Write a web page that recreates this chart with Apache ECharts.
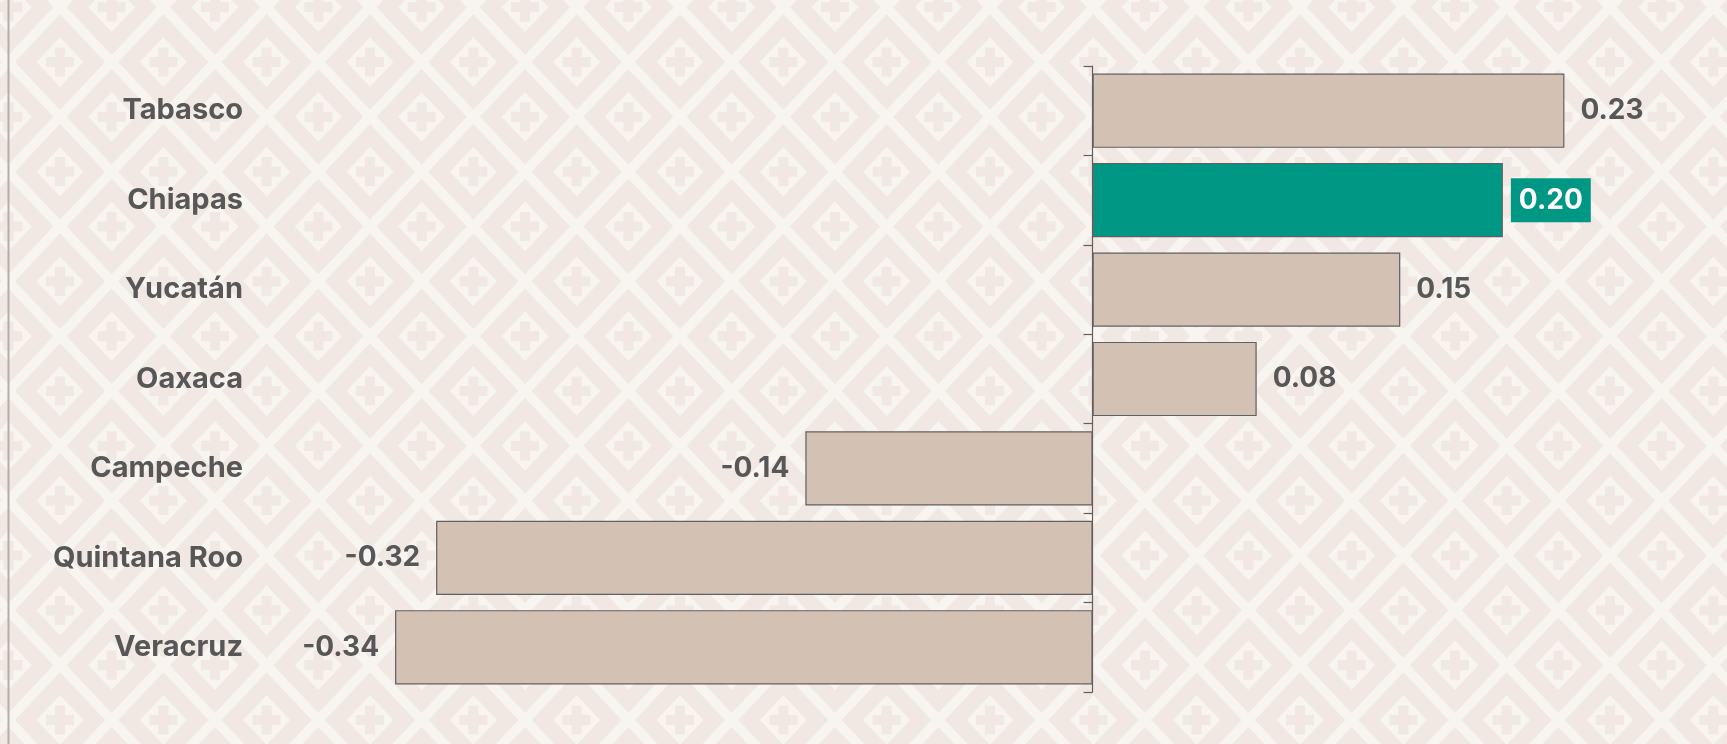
<!DOCTYPE html>
<html>
<head>
<meta charset="utf-8">
<script src="https://cdn.jsdelivr.net/npm/echarts@6.0.0/dist/echarts.min.js"></script>
<style>
  html, body { margin: 0; padding: 0; background: #f8f4f0; }
  #chart { width: 1727px; height: 744px; }
</style>
</head>
<body>
<div id="chart"></div>
<script>
const states = ['Tabasco', 'Chiapas', 'Yucatán', 'Oaxaca', 'Campeche', 'Quintana Roo', 'Veracruz']
const values = [0.23, 0.20, 0.15, 0.08, -0.14, -0.32, -0.34]
const highlight = 'Chiapas'

const FONT = 'Inter'
const TEXT = '#575757'
const TEAL = '#009885'

// tiled diamond / cross wallpaper, 3x3 lattice cells per tile
function makeTile () {
  const pw = 310 / 3
  const ph = 329 / 3
  const c = document.createElement('canvas')
  c.width = 310
  c.height = 329
  const g = c.getContext('2d')
  g.fillStyle = '#f8f4f0'
  g.fillRect(0, 0, c.width, c.height)
  const k = ph / pw
  function diamond (cx, cy, a, fill) {
    g.fillStyle = fill
    g.beginPath()
    g.moveTo(cx - a, cy)
    g.lineTo(cx, cy - a * k)
    g.lineTo(cx + a, cy)
    g.lineTo(cx, cy + a * k)
    g.closePath()
    g.fill()
  }
  function cell (cx, cy) {
    diamond(cx, cy, 45, '#f1e7e3')
    diamond(cx, cy, 23.5, '#f8f4f0')
    g.fillStyle = '#f1e7e3'
    g.fillRect(cx - 14, cy - 5, 28, 10)
    g.fillRect(cx - 5, cy - 14.5, 10, 29)
  }
  for (let i = -1; i <= 3; i++) {
    for (let j = -1; j <= 3; j++) {
      cell(60 + i * pw, 62 + j * ph)
      cell(60 + pw / 2 + i * pw, 62 + ph / 2 + j * ph)
    }
  }
  return c
}

function getOption () {
  return {
    animation: false,
    backgroundColor: { image: makeTile(), repeat: 'repeat' },
    graphic: [{
      type: 'line',
      shape: { x1: 8.5, y1: 0, x2: 8.5, y2: 744 },
      style: { stroke: '#b4aeab', lineWidth: 2 }
    }],
    grid: {
      left: 272,
      right: 19,
      top: 66,
      bottom: 52,
      containLabel: false,
      outerBoundsMode: 'none'
    },
    xAxis: {
      type: 'value',
      min: -0.4,
      max: 0.3,
      show: false
    },
    yAxis: [{
      type: 'category',
      data: states,
      inverse: true,
      axisLine: {
        onZero: true,
        lineStyle: { color: '#606060', width: 1.2 }
      },
      axisTick: {
        show: true,
        length: 9,
        lineStyle: { color: '#606060', width: 1.2 }
      },
      axisLabel: { show: false }
    }, {
      type: 'category',
      data: states,
      inverse: true,
      position: 'left',
      axisLine: { show: false, onZero: false },
      axisTick: { show: false },
      axisLabel: {
        margin: 29,
        fontSize: 29,
        fontWeight: 'bold',
        fontFamily: FONT,
        color: TEXT
      }
    }],
    series: [{
      type: 'bar',
      yAxisIndex: 0,
      barCategoryGap: '17%',
      itemStyle: {
        color: '#d3c2b4',
        borderColor: '#606060',
        borderWidth: 1.2
      },
      label: {
        show: true,
        formatter: p => p.value.toFixed(2),
        fontSize: 28,
        lineHeight: 28,
        fontWeight: 'bold',
        fontFamily: FONT,
        distance: 8,
        padding: [8, 8]
      },
      data: values.map((v, i) => {
        const hot = states[i] === highlight
        return {
          value: v,
          itemStyle: hot ? { color: TEAL } : {},
          label: {
            position: v < 0 ? 'left' : 'right',
            color: hot ? '#fff' : TEXT,
            backgroundColor: hot ? TEAL : 'transparent'
          }
        }
      })
    }]
  }
}

const chart = echarts.init(document.getElementById('chart'))
chart.setOption(getOption())
</script>
</body>
</html>
